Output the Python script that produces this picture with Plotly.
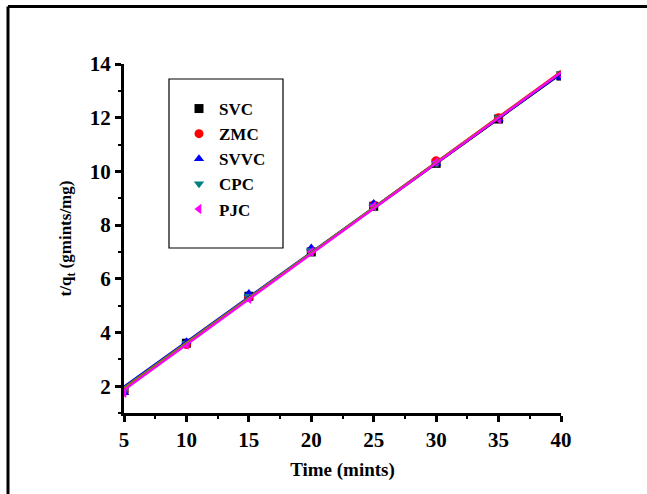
import numpy as np
import plotly.graph_objects as go

# Contact time (minutes)
time_min = [5, 10, 15, 20, 25, 30, 35, 40]

# t/q_t values for each adsorbent
svc = [1.85, 3.60, 5.35, 7.00, 8.70, 10.30, 11.95, 13.55]
zmc = [1.80, 3.55, 5.30, 7.05, 8.75, 10.40, 12.00, 13.60]
svvc = [1.75, 3.65, 5.45, 7.15, 8.80, 10.30, 11.95, 13.50]
cpc = [1.85, 3.60, 5.35, 7.05, 8.70, 10.30, 12.00, 13.65]
pjc = [1.75, 3.55, 5.25, 7.00, 8.70, 10.35, 11.95, 13.60]

series = [
    ("SVC", svc, "square", "black", "black"),
    ("ZMC", zmc, "circle", "red", "red"),
    ("SVVC", svvc, "triangle-up", "blue", "blue"),
    ("CPC", cpc, "triangle-down", "#008080", "#808000"),
    ("PJC", pjc, "triangle-left", "magenta", "magenta"),
]

FONT = "Liberation Serif"

fig = go.Figure()

# measured points
for name, vals, sym, mcol, _ in series:
    fig.add_trace(go.Scatter(
        x=time_min, y=vals, mode="markers", name=name,
        marker=dict(symbol=sym, size=9, color=mcol, line=dict(width=0)),
    ))

# pseudo-second-order linear fits
xs = np.array(time_min, dtype=float)
for name, vals, _, _, lcol in series:
    slope, icpt = np.polyfit(xs, np.array(vals), 1)
    fx = np.array([xs.min(), xs.max()])
    fig.add_trace(go.Scatter(
        x=fx, y=slope * fx + icpt, mode="lines", showlegend=False,
        line=dict(color=lcol, width=2.2), hoverinfo="skip",
    ))

L, R, T, B = 124, 86, 64, 81
W, H = 647, 494
pw, ph = W - L - R, H - T - B


def px_x(p):
    return (p - L) / pw


def px_y(p):
    return 1 - (p - T) / ph


fig.update_layout(
    width=W, height=H,
    margin=dict(l=L, r=R, t=T, b=B),
    paper_bgcolor="white", plot_bgcolor="white",
    font=dict(family=FONT, color="black", size=18),
    showlegend=True,
    legend=dict(
        x=px_x(179), y=px_y(91), xanchor="left", yanchor="top",
        bgcolor="rgba(0,0,0,0)", borderwidth=0,
        font=dict(family=FONT, size=17, color="black", weight="bold"),
        itemwidth=30, tracegroupgap=0,
    ),
    xaxis=dict(
        range=[5, 40], tickvals=[5, 10, 15, 20, 25, 30, 35, 40],
        showgrid=False, zeroline=False,
        showline=True, linecolor="black", linewidth=3,
        ticks="outside", ticklen=6, tickwidth=3, tickcolor="black",
        minor=dict(tickvals=[7.5, 12.5, 17.5, 22.5, 27.5, 32.5, 37.5],
                   ticks="outside", ticklen=3, tickwidth=2, tickcolor="black"),
        tickfont=dict(family=FONT, size=21, weight="bold"),
        title=dict(text="Time (mints)", standoff=12,
                   font=dict(family=FONT, size=19, weight="bold")),
    ),
    yaxis=dict(
        range=[1, 14], tickvals=[2, 4, 6, 8, 10, 12, 14],
        showgrid=False, zeroline=False,
        showline=True, linecolor="black", linewidth=3,
        ticks="outside", ticklen=6, tickwidth=3, tickcolor="black",
        minor=dict(tickvals=[1, 3, 5, 7, 9, 11, 13],
                   ticks="outside", ticklen=3, tickwidth=2, tickcolor="black"),
        tickfont=dict(family=FONT, size=21, weight="bold"),
        title=dict(text="t/q<sub>t</sub> (gmints/mg)", standoff=14,
                   font=dict(family=FONT, size=17, weight="bold")),
    ),
    shapes=[
        # legend box
        dict(type="rect", xref="paper", yref="paper",
             x0=px_x(169), x1=px_x(283), y0=px_y(248), y1=px_y(79),
             line=dict(color="black", width=1.2), fillcolor="rgba(0,0,0,0)"),
        # outer frame (top and left edges)
        dict(type="line", xref="paper", yref="paper",
             x0=px_x(8), x1=px_x(660), y0=px_y(6.5), y1=px_y(6.5),
             line=dict(color="black", width=3)),
        dict(type="line", xref="paper", yref="paper",
             x0=px_x(8), x1=px_x(8), y0=px_y(6.5), y1=px_y(510),
             line=dict(color="black", width=3)),
    ],
)

fig.write_html("out.html")
